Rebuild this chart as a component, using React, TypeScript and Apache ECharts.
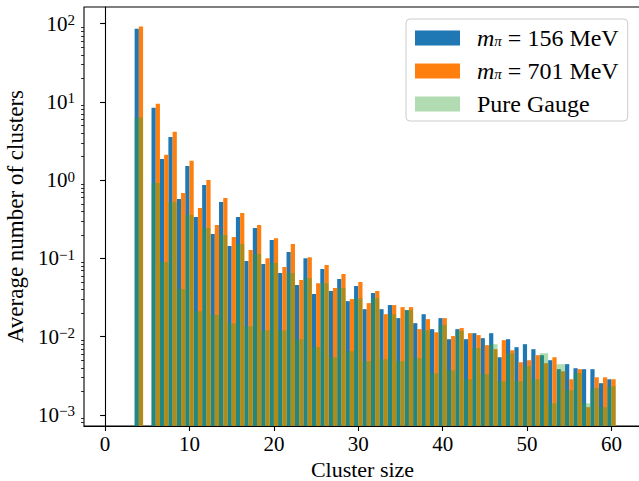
import React, { useEffect, useRef } from 'react';
import * as echarts from 'echarts';

const clusterSizes = [4, 6, 7, 8, 9, 10, 11, 12, 13, 14, 15, 16, 17, 18, 19, 20, 21, 22, 23, 24, 25, 26, 27, 28, 29, 30, 31, 32, 33, 34, 35, 36, 37, 38, 39, 40, 41, 42, 43, 44, 45, 46, 47, 48, 49, 50, 51, 52, 53, 54, 55, 56, 57, 58, 59, 60];

const m156 = [86.3, 8.41, 1.87, 3.58, 0.576, 1.52, 0.339, 0.871, 0.205, 0.527, 0.144, 0.339, 0.0927, 0.245, 0.0849, 0.172, 0.065, 0.121, 0.0457, 0.101, 0.0351, 0.0732, 0.0383, 0.0545, 0.0285, 0.0444, 0.0225, 0.0361, 0.0225, 0.0254, 0.0173, 0.0219, 0.0149, 0.0194, 0.0125, 0.0173, 0.0093, 0.0125, 0.0093, 0.0111, 0.00959, 0.0111, 0.00547, 0.0093, 0.00735, 0.00803, 0.00693, 0.00581, 0.00501, 0.00385, 0.00446, 0.00396, 0.00385, 0.00385, 0.00255, 0.00286];

const m701 = [92.4, 9.47, 2.11, 4.15, 0.687, 1.77, 0.442, 1.01, 0.268, 0.593, 0.188, 0.381, 0.128, 0.268, 0.101, 0.182, 0.0776, 0.153, 0.053, 0.104, 0.0484, 0.0824, 0.0418, 0.0632, 0.0303, 0.0499, 0.0269, 0.0383, 0.0194, 0.0254, 0.0239, 0.0239, 0.0125, 0.0168, 0.0114, 0.0173, 0.0102, 0.0129, 0.0111, 0.0105, 0.0078, 0.00693, 0.00904, 0.00673, 0.00472, 0.00501, 0.00581, 0.00459, 0.00547, 0.00362, 0.00286, 0.00385, 0.00126, 0.00303, 0.00303, 0.00286];

const pureGauge = [6.32, 0.923, 0.09, 0.527, 0.0406, 0.36, 0.0212, 0.245, 0.0189, 0.2, 0.0149, 0.153, 0.0136, 0.114, 0.0121, 0.0873, 0.0121, 0.065, 0.0093, 0.0561, 0.00735, 0.0484, 0.00547, 0.0418, 0.00653, 0.0311, 0.00486, 0.0311, 0.00516, 0.0194, 0.00486, 0.0219, 0.00532, 0.0121, 0.00342, 0.0141, 0.00373, 0.0118, 0.00286, 0.00714, 0.00332, 0.00803, 0.0027, 0.00616, 0.0027, 0.0042, 0.00286, 0.00616, 0.00141, 0.00446, 0.00207, 0.00342, 0.00141, 0.0022, 0.00126, 0.00233];

const xTicks = [0, 10, 20, 30, 40, 50, 60];
const yMajorTicks = [0.001, 0.01, 0.1, 1, 10, 100];
const yMinorTicks = [
  0.0008, 0.0009,
  0.002, 0.003, 0.004, 0.005, 0.006, 0.007, 0.008, 0.009,
  0.02, 0.03, 0.04, 0.05, 0.06, 0.07, 0.08, 0.09,
  0.2, 0.3, 0.4, 0.5, 0.6, 0.7, 0.8, 0.9,
  2, 3, 4, 5, 6, 7, 8, 9,
  20, 30, 40, 50, 60, 70, 80, 90,
];

const X_MIN = -2.5;
const X_MAX = 63.5;
const Y_MIN = 7.23e-4;
const Y_MAX = 163.6;

const FONT = '"Liberation Serif", "DejaVu Serif", serif';

const COLOR_BLUE = '#1f77b4';
const COLOR_ORANGE = '#ff7f0e';
const COLOR_GREEN = 'rgba(44,160,44,0.37)';

function barSeries(name: string, values: number[], color: string, x0: number, x1: number) {
  return {
    type: 'custom',
    name,
    coordinateSystem: 'cartesian2d',
    xAxisIndex: 0,
    yAxisIndex: 0,
    clip: true,
    itemStyle: { color },
    encode: { x: 0, y: 1 },
    data: clusterSizes.map((s, i) => [s, values[i]]),
    renderItem: (params: any, api: any) => {
      const s = api.value(0);
      const v = api.value(1);
      const a = api.coord([s + x0, v]);
      const b = api.coord([s + x1, v]);
      const cs = params.coordSys;
      const base = cs.y + cs.height;
      return {
        type: 'rect',
        shape: { x: a[0], y: a[1], width: b[0] - a[0], height: base - a[1] },
        style: { fill: color },
      };
    },
  };
}

function expLabel(v: number) {
  const e = Math.round(Math.log10(v));
  const es = e < 0 ? '\u2212' + String(-e) : String(e);
  return `{b|10}{p|${es}}`;
}

export default function App() {
  const ref = useRef<HTMLDivElement>(null);
  useEffect(() => {
    document.body.style.margin = '0';
    if (!ref.current) return;
    const chart = echarts.init(ref.current, undefined, { renderer: 'svg' });
    const legendNames = ['m156', 'm701', 'Pure Gauge'];
    chart.setOption({
      animation: false,
      backgroundColor: '#ffffff',
      grid: {
        left: 84,
        top: 7,
        width: 557,
        height: 419,
        containLabel: false,
        outerBoundsMode: 'none',
        show: true,
        borderColor: '#000',
        borderWidth: 1.1,
        backgroundColor: 'transparent',
      },
      legend: {
        data: legendNames,
        orient: 'vertical',
        left: 406,
        top: 19,
        padding: [7, 9, 5, 9],
        itemWidth: 45,
        itemHeight: 15,
        itemGap: 9,
        icon: 'rect',
        borderColor: '#cccccc',
        borderWidth: 1,
        borderRadius: 4,
        backgroundColor: 'rgba(255,255,255,0.8)',
        formatter: (name: string) => {
          if (name === 'Pure Gauge') return '{g| }{t|Pure Gauge}';
          const mass = name === 'm156' ? '156' : '701';
          return `{g| }{i|m}{s|\u03c0}{t| = ${mass} MeV}`;
        },
        textStyle: {
          fontFamily: FONT,
          fontSize: 22,
          lineHeight: 20,
          color: '#000',
          rich: {
            g: { width: 12, fontSize: 20, lineHeight: 20 },
            t: { fontFamily: FONT, fontSize: 24, lineHeight: 20, color: '#000' },
            i: { fontFamily: FONT, fontStyle: 'italic', fontSize: 24, lineHeight: 20, color: '#000' },
            s: { fontFamily: FONT, fontStyle: 'italic', fontSize: 15, lineHeight: 8, verticalAlign: 'bottom', color: '#000' },
          },
        },
      },
      xAxis: {
        type: 'value',
        min: X_MIN,
        max: X_MAX,
        name: 'Cluster size',
        nameLocation: 'middle',
        nameGap: 27,
        nameTextStyle: { fontFamily: FONT, fontSize: 22, lineHeight: 20, color: '#000' },
        axisLine: { show: true, onZero: false, lineStyle: { color: '#000', width: 1.1 } },
        axisTick: { show: true, inside: false, length: 5, customValues: xTicks, lineStyle: { color: '#000', width: 1.1 } },
        axisLabel: { show: true, customValues: xTicks, margin: 7, fontFamily: FONT, fontSize: 21, color: '#000' },
        splitLine: { show: false },
      },
      yAxis: [
        {
          type: 'log',
          logBase: 10,
          min: Y_MIN,
          max: Y_MAX,
          name: 'Average number of clusters',
          nameLocation: 'middle',
          nameGap: 56,
          nameTextStyle: { fontFamily: FONT, fontSize: 23, color: '#000' },
          axisLine: { show: true, lineStyle: { color: '#000', width: 1.1 } },
          axisTick: { show: true, inside: false, length: 5, customValues: yMajorTicks, lineStyle: { color: '#000', width: 1.1 } },
          axisLabel: {
            show: true,
            customValues: yMajorTicks,
            margin: 9,
            formatter: expLabel,
            rich: {
              b: { fontFamily: FONT, fontSize: 21, lineHeight: 22, color: '#000' },
              p: { fontFamily: FONT, fontSize: 15, lineHeight: 10, verticalAlign: 'top', color: '#000' },
            },
          },
          splitLine: { show: false },
        },
        {
          type: 'log',
          logBase: 10,
          min: Y_MIN,
          max: Y_MAX,
          position: 'left',
          axisLine: { show: false },
          axisTick: { show: true, inside: false, length: 3, customValues: yMinorTicks, lineStyle: { color: '#000', width: 0.8 } },
          axisLabel: { show: false },
          splitLine: { show: false },
        },
      ],
      series: [
        barSeries('m156', m156, COLOR_BLUE, -0.5, 0),
        barSeries('m701', m701, COLOR_ORANGE, 0, 0.5),
        barSeries('Pure Gauge', pureGauge, COLOR_GREEN, -0.5, 0.5),
      ],
    });
    return () => chart.dispose();
  }, []);
  return <div ref={ref} style={{ position: 'absolute', left: 0, top: 0, width: 639, height: 481 }} />;
}
